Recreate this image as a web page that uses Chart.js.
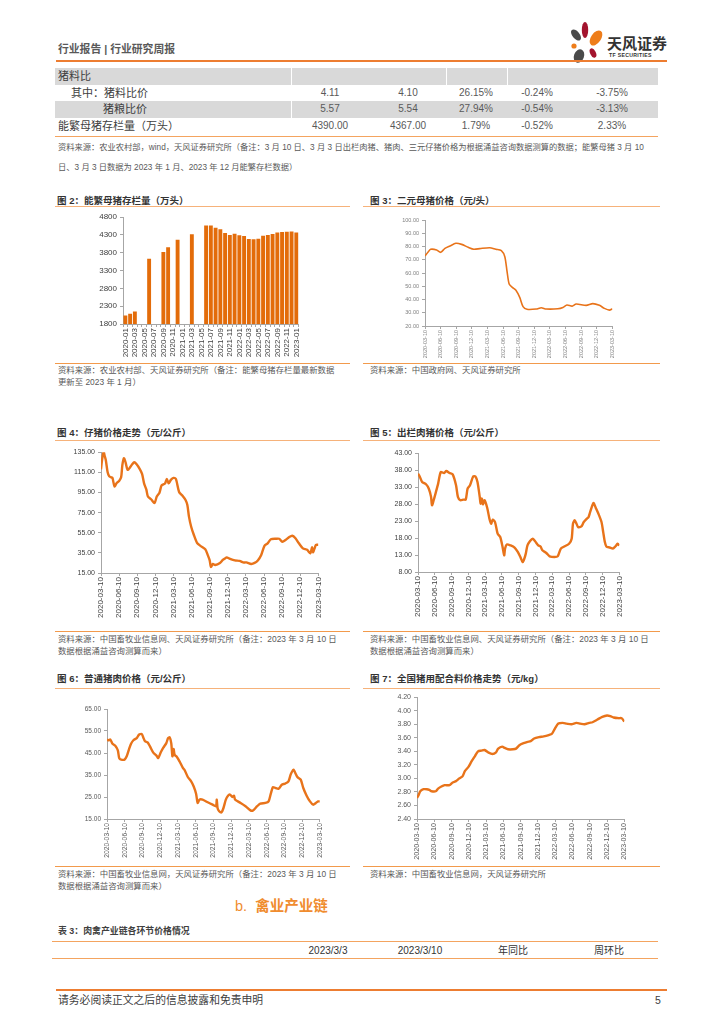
<!DOCTYPE html>
<html>
<head>
<meta charset="utf-8">
<script src="https://cdn.jsdelivr.net/npm/chart.js@4.4.0/dist/chart.umd.min.js"></script>
<style>
	body { margin: 0; width: 724px; height: 1024px; position: relative; background: #fff; overflow: hidden;
		font-family: "Liberation Sans", "Noto Sans CJK SC", sans-serif; color: #404040; }
	.t { position: absolute; white-space: nowrap; line-height: 1; }
	.ft { font-size: 9.5px; font-weight: bold; color: #333; }
	.note { font-size: 8.4px; color: #595959; }
	.hl { position: absolute; height: 0; }
	.thin { border-top: 1px solid #f6b27a; }
	.thick { border-top: 1.5px solid #f29a4c; }
	.row { position: absolute; left: 55px; width: 603px; }
	.gray { background: #d9d9d9; }
	.sep { position: absolute; width: 1px; background: #fff; }
	.cell { position: absolute; width: 80px; text-align: center; font-size: 10px; color: #595959; line-height: 1; }
	.lab { position: absolute; font-size: 11px; color: #404040; line-height: 1; white-space: nowrap; }
	canvas { position: absolute; }
</style>
</head>
<body>
<!-- header -->
<div class="t" style="left:58px;top:44px;font-size:10.8px;font-weight:bold;color:#595959;">行业报告 | 行业研究周报</div>
<svg style="position:absolute;left:566px;top:20px" width="40" height="46" viewBox="0 0 40 46">
	<ellipse cx="10" cy="15" rx="3.6" ry="6.5" fill="#4a4a4a" transform="rotate(-40 10 15)"/>
	<ellipse cx="19" cy="10" rx="3.2" ry="8" fill="#a3142e"/>
	<ellipse cx="30" cy="18" rx="5" ry="8.5" fill="#ee7d1a" transform="rotate(35 30 18)"/>
	<circle cx="8" cy="26" r="2.6" fill="#ee7d1a"/>
	<ellipse cx="13" cy="36" rx="5" ry="7" fill="#4a4a4a" transform="rotate(20 13 36)"/>
	<ellipse cx="27" cy="33" rx="2.8" ry="5" fill="#a3142e" transform="rotate(-25 27 33)"/>
</svg>
<div class="t" style="left:607px;top:36px;font-size:15px;font-weight:bold;color:#333;">天风证券</div>
<div class="t" style="left:609px;top:53px;font-size:5.2px;font-weight:bold;color:#333;letter-spacing:0.3px;">TF SECURITIES</div>
<div class="hl" style="left:56px;top:60px;width:611px;border-top:2px solid #ed7d31;"></div>

<!-- top table -->
<div class="row gray" style="top:68px;height:17px;"></div>
<div class="row gray" style="top:101px;height:17px;"></div>
<div class="sep" style="left:291px;top:68px;height:17px;"></div>
<div class="sep" style="left:446px;top:68px;height:17px;"></div>
<div class="sep" style="left:507px;top:68px;height:17px;"></div>
<div class="sep" style="left:291px;top:101px;height:17px;"></div>
<div class="lab" style="left:58px;top:71px;">猪料比</div>
<div class="lab" style="left:71px;top:88px;">其中：猪料比价</div>
<div class="lab" style="left:103px;top:104px;">猪粮比价</div>
<div class="lab" style="left:58px;top:121px;">能繁母猪存栏量（万头）</div>
<div id="tbl"></div>
<div class="hl" style="left:55px;top:136px;width:603px;border-top:1px solid #f4a460;"></div>
<div class="t note" style="left:58px;top:144px;font-size:8.25px;">资料来源：农业农村部，wind，天风证券研究所（备注：3 月 10 日、3 月 3 日出栏肉猪、猪肉、三元仔猪价格为根据涌益咨询数据测算的数据；能繁母猪 3 月 10</div>
<div class="t note" style="left:58px;top:164px;font-size:8.25px;">日、3 月 3 日数据为 2023 年 1 月、2023 年 12 月能繁存栏数据）</div>

<!-- fig 2 / fig 3 -->
<div class="t ft" style="left:57px;top:196px;">图 2：能繁母猪存栏量（万头）</div>
<div class="hl thin" style="left:55px;top:206px;width:295px;"></div>
<canvas id="fig2" width="250" height="152" style="left:57px;top:208px;"></canvas>
<div class="hl thick" style="left:55px;top:363px;width:295px;"></div>
<div class="t note" style="left:58px;top:366px;">资料来源：农业农村部、天风证券研究所（备注：能繁母猪存栏量最新数据</div>
<div class="t note" style="left:58px;top:378px;">更新至 2023 年 1 月）</div>

<div class="t ft" style="left:370px;top:196px;">图 3：二元母猪价格（元/头）</div>
<div class="hl thin" style="left:363px;top:206px;width:297px;"></div>
<canvas id="fig3" width="250" height="150" style="left:370px;top:212px;"></canvas>
<div class="hl thick" style="left:363px;top:363px;width:297px;"></div>
<div class="t note" style="left:370px;top:366px;">资料来源：中国政府网、天风证券研究所</div>

<!-- fig 4 / fig 5 -->
<div class="t ft" style="left:57px;top:428px;">图 4：仔猪价格走势（元/公斤）</div>
<div class="hl thin" style="left:55px;top:440px;width:295px;"></div>
<canvas id="fig4" width="272" height="175" style="left:57px;top:445px;"></canvas>
<div class="hl thick" style="left:55px;top:631px;width:295px;"></div>
<div class="t note" style="left:58px;top:635px;">资料来源：中国畜牧业信息网、天风证券研究所（备注：2023 年 3 月 10 日</div>
<div class="t note" style="left:58px;top:647px;">数据根据涌益咨询测算而来）</div>

<div class="t ft" style="left:370px;top:428px;">图 5：出栏肉猪价格（元/公斤）</div>
<div class="hl thin" style="left:363px;top:440px;width:297px;"></div>
<canvas id="fig5" width="262" height="175" style="left:368px;top:445px;"></canvas>
<div class="hl thick" style="left:363px;top:631px;width:297px;"></div>
<div class="t note" style="left:370px;top:635px;">资料来源：中国畜牧业信息网、天风证券研究所（备注：2023 年 3 月 10 日</div>
<div class="t note" style="left:370px;top:647px;">数据根据涌益咨询测算而来）</div>

<!-- fig 6 / fig 7 -->
<div class="t ft" style="left:57px;top:674px;">图 6：普通猪肉价格（元/公斤）</div>
<div class="hl thin" style="left:55px;top:688px;width:295px;"></div>
<canvas id="fig6" width="272" height="160" style="left:57px;top:700px;"></canvas>
<div class="hl thick" style="left:55px;top:866px;width:295px;"></div>
<div class="t note" style="left:58px;top:870px;">资料来源：中国畜牧业信息网，天风证券研究所（备注：2023 年 3 月 10 日</div>
<div class="t note" style="left:58px;top:882px;">数据根据涌益咨询测算而来）</div>

<div class="t ft" style="left:370px;top:674px;">图 7：全国猪用配合料价格走势（元/kg）</div>
<div class="hl thin" style="left:363px;top:688px;width:297px;"></div>
<canvas id="fig7" width="266" height="170" style="left:368px;top:690px;"></canvas>
<div class="hl thick" style="left:363px;top:866px;width:297px;"></div>
<div class="t note" style="left:370px;top:870px;">资料来源：中国畜牧业信息网，天风证券研究所</div>

<!-- section b -->
<div class="t" style="left:235px;top:899px;font-size:14.5px;color:#f08c2e;">b.&nbsp; <b>禽业产业链</b></div>
<div class="t" style="left:58px;top:927px;font-size:8.9px;font-weight:bold;color:#404040;">表 3：肉禽产业链各环节价格情况</div>
<div class="hl" style="left:52px;top:941px;width:606px;border-top:1px solid #f4a460;"></div>
<div class="cell" style="left:288px;top:946px;font-size:10px;color:#333;">2023/3/3</div>
<div class="cell" style="left:380px;top:946px;font-size:10px;color:#333;">2023/3/10</div>
<div class="cell" style="left:473px;top:946px;font-size:10px;color:#333;">年同比</div>
<div class="cell" style="left:569px;top:946px;font-size:10px;color:#333;">周环比</div>
<div class="hl" style="left:52px;top:958px;width:606px;border-top:1px solid #f4a460;"></div>

<!-- footer -->
<div class="hl" style="left:56px;top:989px;width:611px;border-top:2px solid #ed7d31;"></div>
<div class="t" style="left:58px;top:995px;font-size:10.8px;color:#404040;">请务必阅读正文之后的信息披露和免责申明</div>
<div class="t" style="left:655px;top:995px;font-size:10.5px;color:#404040;">5</div>

<script>
const FONT = "Liberation Sans";
const ORANGE = "#e8731a";
const AXIS = "#a6a6a6";

// top table
const tableRows = ["猪料比价", "猪粮比价", "能繁母猪存栏量"];
const tableValues = [
	["4.11", "4.10", "26.15%", "-0.24%", "-3.75%"],
	["5.57", "5.54", "27.94%", "-0.54%", "-3.13%"],
	["4390.00", "4367.00", "1.79%", "-0.52%", "2.33%"],
];

// fig 2 能繁母猪存栏量
const fig2Months = ["2020-01", "2020-02", "2020-03", "2020-04", "2020-05", "2020-06", "2020-07", "2020-08", "2020-09", "2020-10", "2020-11", "2020-12",
	"2021-01", "2021-02", "2021-03", "2021-04", "2021-05", "2021-06", "2021-07", "2021-08", "2021-09", "2021-10", "2021-11", "2021-12",
	"2022-01", "2022-02", "2022-03", "2022-04", "2022-05", "2022-06", "2022-07", "2022-08", "2022-09", "2022-10", "2022-11", "2022-12", "2023-01"];
const fig2Values = [2040, 2090, 2150, null, null, 3630, null, null, 3822, 3950, null, 4161,
	null, null, 4318, null, null, 4564, 4564, 4499, 4459, 4348, 4296, 4329,
	4290, 4268, 4185, 4177, 4192, 4277, 4298, 4324, 4362, 4379, 4385, 4390, 4367];
const fig2Ticks = [1800, 2300, 2800, 3300, 3800, 4300, 4800];

// shared quarter tick labels of the line charts
const quarterTicks = ["2020-03-10", "2020-06-10", "2020-09-10", "2020-12-10", "2021-03-10", "2021-06-10", "2021-09-10",
	"2021-12-10", "2022-03-10", "2022-06-10", "2022-09-10", "2022-12-10", "2023-03-10"];

// fig 3 二元母猪价格
const fig3Dates = ["2020-03-10", "2020-03-29", "2020-04-12", "2020-05-17", "2020-06-10", "2020-07-05", "2020-08-04", "2020-09-08",
	"2020-10-11", "2020-11-19", "2020-12-21", "2021-01-26", "2021-03-23", "2021-04-28", "2021-05-30", "2021-06-20", "2021-07-03",
	"2021-07-15", "2021-08-03", "2021-08-23", "2021-09-16", "2021-10-05", "2021-10-28", "2021-12-21", "2022-01-20", "2022-02-19",
	"2022-04-26", "2022-05-25", "2022-06-18", "2022-07-18", "2022-08-11", "2022-10-09", "2022-11-17", "2022-12-25", "2023-01-24",
	"2023-02-23", "2023-03-10"];
const fig3Values = [72.8, 76, 77.9, 77.4, 75.6, 78.6, 80.4, 82.4, 81.6, 79.4, 77.9, 78.4, 79.1, 77.9, 76.9, 72.3, 61,
	51.7, 49.2, 47.2, 41.6, 34.6, 32.6, 32.8, 33.8, 32.8, 33, 34, 35.8, 35, 36.6, 35.6, 36.9, 35.6, 33.3, 32, 33];
const fig3Ticks = [20, 30, 40, 50, 60, 70, 80, 90, 100];

// fig 4 仔猪价格
const fig4Dates = ["2020-03-10", "2020-03-15", "2020-03-23", "2020-03-28", "2020-04-04", "2020-04-13", "2020-04-21", "2020-05-01",
	"2020-05-07", "2020-05-17", "2020-05-28", "2020-06-10", "2020-06-20", "2020-06-26", "2020-07-04", "2020-07-12", "2020-07-22",
	"2020-08-03", "2020-08-15", "2020-08-25", "2020-09-07", "2020-09-22", "2020-10-04", "2020-10-14", "2020-10-25", "2020-11-03",
	"2020-11-20", "2020-12-06", "2020-12-17", "2020-12-30", "2021-01-11", "2021-01-28", "2021-02-07", "2021-02-16", "2021-02-27",
	"2021-03-10", "2021-03-22", "2021-04-08", "2021-04-24", "2021-05-10", "2021-05-19", "2021-05-27", "2021-06-08", "2021-06-21",
	"2021-07-07", "2021-07-24", "2021-08-18", "2021-08-30", "2021-09-10", "2021-09-16", "2021-09-26", "2021-10-07", "2021-11-01",
	"2021-11-15", "2021-11-26", "2021-12-04", "2021-12-21", "2022-01-15", "2022-02-09", "2022-02-26", "2022-03-12", "2022-04-06",
	"2022-04-23", "2022-05-09", "2022-05-26", "2022-06-12", "2022-06-28", "2022-07-14", "2022-08-09", "2022-08-25", "2022-09-11",
	"2022-09-28", "2022-10-14", "2022-10-30", "2022-11-16", "2022-12-03", "2022-12-23", "2023-01-14", "2023-01-30", "2023-02-08",
	"2023-02-13", "2023-02-21", "2023-02-28", "2023-03-10"];
const fig4Values = [118, 127, 135.5, 131.5, 127, 115, 111, 110,
	109.5, 101, 104.5, 106.5, 110, 122, 129, 125, 117.5,
	119.5, 123, 125, 123, 118.5, 113.5, 104, 98, 91,
	88, 84.5, 91, 94.5, 102, 104, 108.5, 104, 107.5,
	109.5, 108.5, 95.5, 92, 87.5, 82.5, 71, 61, 53,
	45, 42, 38.5, 33, 27.5, 21, 24, 23, 25,
	28, 29.5, 30.5, 29, 27.5, 27, 25.5, 25.5, 24,
	25, 27.5, 33, 42, 44.5, 48.5, 49, 49, 46,
	48, 50.5, 52, 49.5, 44.5, 39.5, 38, 34.5, 40.5,
	35.5, 39.5, 43, 43];
const fig4Ticks = [15, 35, 55, 75, 95, 115, 135];

// fig 5 出栏肉猪价格
const fig5Dates = ["2020-03-10", "2020-03-19", "2020-04-02", "2020-04-23", "2020-05-08", "2020-05-20", "2020-05-25", "2020-06-04",
	"2020-06-16", "2020-06-28", "2020-07-12", "2020-07-30", "2020-08-12", "2020-08-29", "2020-09-16", "2020-10-04", "2020-10-14",
	"2020-10-27", "2020-11-14", "2020-11-26", "2020-12-06", "2020-12-19", "2021-01-06", "2021-01-18", "2021-01-29", "2021-02-11",
	"2021-02-16", "2021-02-23", "2021-02-28", "2021-03-07", "2021-03-21", "2021-04-03", "2021-04-12", "2021-04-21", "2021-05-03",
	"2021-05-17", "2021-05-31", "2021-06-13", "2021-06-22", "2021-06-27", "2021-07-06", "2021-07-27", "2021-08-18", "2021-09-05",
	"2021-09-19", "2021-10-01", "2021-10-10", "2021-10-18", "2021-10-27", "2021-11-11", "2021-11-25", "2021-12-07", "2021-12-25",
	"2022-01-07", "2022-01-17", "2022-02-08", "2022-02-26", "2022-03-22", "2022-04-09", "2022-04-26", "2022-05-14", "2022-06-10",
	"2022-06-24", "2022-07-01", "2022-07-10", "2022-07-20", "2022-07-29", "2022-08-16", "2022-08-29", "2022-09-16", "2022-09-25",
	"2022-10-03", "2022-10-21", "2022-11-03", "2022-11-17", "2022-12-04", "2022-12-13", "2022-12-22", "2022-12-30", "2023-01-18",
	"2023-02-05", "2023-02-18", "2023-03-01", "2023-03-10"];
const fig5Values = [36.9, 36.1, 34.5, 33.8, 32.5, 30.1, 27.6, 29.1,
	31.5, 34, 37.4, 37.1, 37.7, 37.1, 36.7, 33.5, 30.1,
	29.1, 29.3, 29.3, 32.5, 33.5, 36.1, 36.1, 34.5, 30.1,
	28.1, 29.6, 27.9, 29.1, 26.9, 23.7, 22.2, 23.4, 22.7,
	19.3, 18.3, 15.5, 12.9, 14.9, 16.1, 15.8, 15.2, 13.9,
	12.4, 10.9, 11.9, 13.4, 15.8, 17.1, 17.8, 17.1, 15.8,
	15.5, 14.4, 13.6, 12.6, 12.4, 12.6, 14.9, 15.5, 16.3,
	17.8, 22.2, 23.2, 22.2, 21.2, 21.4, 22.7, 23.7, 24.2,
	25.6, 28.3, 26.9, 25.2, 22.7, 19.8, 16.8, 15.5, 15.2,
	14.9, 15.5, 16.3, 15.8];
const fig5Ticks = [8, 13, 18, 23, 28, 33, 38, 43];

// fig 6 普通猪肉价格
const fig6Dates = ["2020-03-10", "2020-03-18", "2020-03-27", "2020-04-08", "2020-04-22", "2020-05-05", "2020-05-12", "2020-05-22",
	"2020-06-09", "2020-06-20", "2020-07-02", "2020-07-12", "2020-07-24", "2020-08-11", "2020-08-22", "2020-09-06", "2020-09-14",
	"2020-09-23", "2020-10-06", "2020-10-18", "2020-11-04", "2020-11-21", "2020-11-30", "2020-12-13", "2020-12-25", "2021-01-11",
	"2021-01-20", "2021-01-28", "2021-02-06", "2021-02-12", "2021-02-18", "2021-02-23", "2021-03-02", "2021-03-18", "2021-04-05",
	"2021-04-13", "2021-04-30", "2021-05-17", "2021-05-30", "2021-06-12", "2021-06-20", "2021-06-29", "2021-07-15", "2021-08-11",
	"2021-09-06", "2021-09-23", "2021-09-27", "2021-10-01", "2021-10-09", "2021-10-21", "2021-10-31", "2021-11-13", "2021-11-24",
	"2021-12-04", "2021-12-16", "2021-12-24", "2021-12-30", "2022-01-14", "2022-01-28", "2022-02-23", "2022-03-18", "2022-04-01",
	"2022-04-22", "2022-05-08", "2022-06-04", "2022-06-20", "2022-07-02", "2022-07-12", "2022-07-24", "2022-08-11", "2022-08-27",
	"2022-09-14", "2022-10-01", "2022-10-12", "2022-10-26", "2022-11-04", "2022-11-16", "2022-12-03", "2022-12-16", "2023-01-03",
	"2023-01-20", "2023-02-06", "2023-02-20", "2023-03-01", "2023-03-10"];
const fig6Values = [51.1, 50.8, 51.1, 49.2, 48.3, 46.2, 42.7, 42,
	42, 43.5, 46.8, 49.2, 50.8, 51.8, 53.3, 53.6, 52.1,
	50.3, 49.8, 48, 45.3, 43.8, 42.7, 45.3, 47.3, 49.5,
	51.8, 52.1, 49.5, 43.5, 46.8, 44.2, 43.5, 41.2, 38.2,
	37.4, 34.1, 32.1, 29.8, 26.5, 22.3, 23.8, 23.8, 22.6,
	21.5, 20.8, 23.8, 20, 18.5, 18, 20, 23.8, 25.6,
	26.1, 25, 25.6, 23.8, 23, 22.3, 20.8, 18.9, 18.9,
	20.8, 22, 22.3, 23, 26.8, 29.5, 29.1, 28.8, 30.6,
	31.1, 32.1, 35.2, 37.4, 36.2, 34.1, 32.9, 29.1, 25.6,
	23, 21.5, 22.3, 23, 23];
const fig6Ticks = [15, 25, 35, 45, 55, 65];

// fig 7 全国猪用配合料价格
const fig7Dates = ["2020-03-10", "2020-03-18", "2020-03-27", "2020-04-14", "2020-05-01", "2020-05-14", "2020-05-26", "2020-06-18",
	"2020-06-30", "2020-07-17", "2020-08-04", "2020-08-29", "2020-09-16", "2020-10-03", "2020-10-20", "2020-11-07", "2020-11-20",
	"2020-12-08", "2020-12-24", "2021-01-12", "2021-01-28", "2021-02-15", "2021-03-02", "2021-03-23", "2021-04-13", "2021-04-30",
	"2021-05-13", "2021-06-04", "2021-06-17", "2021-07-04", "2021-07-30", "2021-08-16", "2021-09-03", "2021-09-25", "2021-10-16",
	"2021-11-02", "2021-11-20", "2021-12-15", "2022-01-10", "2022-02-06", "2022-02-23", "2022-03-09", "2022-03-26", "2022-04-18",
	"2022-05-09", "2022-06-04", "2022-06-30", "2022-07-20", "2022-08-12", "2022-09-07", "2022-09-24", "2022-10-20", "2022-11-15",
	"2022-12-10", "2022-12-27", "2023-01-14", "2023-02-10", "2023-02-26", "2023-03-10"];
const fig7Values = [2.71, 2.75, 2.81, 2.84, 2.84, 2.83, 2.81, 2.81,
	2.85, 2.88, 2.90, 2.90, 2.94, 2.96, 3.00, 3.03, 3.11,
	3.17, 3.25, 3.33, 3.40, 3.41, 3.42, 3.38, 3.36, 3.38,
	3.44, 3.47, 3.45, 3.43, 3.43, 3.44, 3.49, 3.52, 3.54,
	3.55, 3.59, 3.61, 3.62, 3.64, 3.66, 3.74, 3.81, 3.82,
	3.81, 3.80, 3.82, 3.81, 3.80, 3.82, 3.83, 3.87, 3.91,
	3.93, 3.92, 3.90, 3.89, 3.89, 3.84];
const fig7Ticks = [2.4, 2.6, 2.8, 3.0, 3.2, 3.4, 3.6, 3.8, 4.0, 4.2];

function fillTable() {
	const holder = document.getElementById("tbl");
	const centers = [330, 408, 476, 537, 612];
	const tops = [88, 104, 121];
	tableRows.forEach((name, r) => {
		tableValues[r].forEach((text, c) => {
			const div = document.createElement("div");
			div.className = "cell";
			div.style.left = (centers[c] - 40) + "px";
			div.style.top = tops[r] + "px";
			div.textContent = text;
			holder.appendChild(div);
		});
	});
}

function monthPos(date) {
	const [y, m, d] = date.split("-").map(Number);
	return (y - 2020) * 12 + (m - 3) + (d - 10) / 30;
}

function axisY(ticks, look, digits) {
	return {
		min: ticks[0],
		max: ticks[ticks.length - 1],
		afterBuildTicks: (s) => { s.ticks = ticks.map((v) => ({ value: v })); },
		afterFit: (s) => { s.width = look.yw; },
		ticks: {
			font: { family: FONT, size: look.yf },
			color: look.color,
			padding: 3,
			callback: (v) => Number(v).toFixed(digits),
		},
		grid: { drawOnChartArea: false, drawTicks: true, tickLength: 3, color: AXIS },
		border: { color: AXIS },
	};
}

function drawLine(id, dates, values, yTicks, look) {
	const canvas = document.getElementById(id);
	if (!canvas) {
		console.error("Canvas not found:", id);
		return;
	}
	const points = dates.map((d, i) => ({ x: monthPos(d), y: values[i] }));
	new Chart(canvas.getContext("2d"), {
		type: "line",
		data: {
			datasets: [{
				data: points,
				borderColor: ORANGE,
				borderWidth: look.lw,
				pointRadius: 0,
				tension: 0.25,
				fill: false,
			}],
		},
		options: {
			responsive: false,
			animation: false,
			events: [],
			layout: { padding: { top: look.top, right: look.right, left: 0, bottom: 0 } },
			plugins: { legend: { display: false }, tooltip: { enabled: false } },
			scales: {
				x: {
					type: "linear",
					min: 0,
					max: 36,
					afterBuildTicks: (s) => { s.ticks = quarterTicks.map((_, i) => ({ value: i * 3 })); },
					afterFit: (s) => { s.height = look.xh; },
					ticks: {
						autoSkip: false,
						minRotation: 90,
						maxRotation: 90,
						padding: 1,
						font: { family: FONT, size: look.xf },
						color: look.color,
						callback: (v, i) => quarterTicks[i],
					},
					grid: { drawOnChartArea: false, drawTicks: true, tickLength: 3, color: AXIS },
					border: { color: AXIS },
				},
				y: axisY(yTicks, look, 2),
			},
		},
	});
}

function drawBars() {
	const canvas = document.getElementById("fig2");
	const look = { yw: 66, yf: 8, color: "#404040" };
	new Chart(canvas.getContext("2d"), {
		type: "bar",
		data: {
			labels: fig2Months,
			datasets: [{
				data: fig2Values,
				backgroundColor: "#e36c0a",
				barPercentage: 0.82,
				categoryPercentage: 1,
			}],
		},
		options: {
			responsive: false,
			animation: false,
			events: [],
			layout: { padding: { top: 9, right: 6, left: 0, bottom: 0 } },
			plugins: { legend: { display: false }, tooltip: { enabled: false } },
			scales: {
				x: {
					afterFit: (s) => { s.height = 36; },
					ticks: {
						autoSkip: false,
						minRotation: 90,
						maxRotation: 90,
						padding: 1,
						font: { family: FONT, size: 8 },
						color: "#404040",
						callback: (v, i) => (i % 2 === 0 ? fig2Months[i] : ""),
					},
					grid: { drawOnChartArea: false, drawTicks: true, tickLength: 3, color: AXIS },
					border: { color: AXIS },
				},
				y: axisY(fig2Ticks, look, 0),
			},
		},
	});
}

fillTable();
drawBars();
drawLine("fig3", fig3Dates, fig3Values, fig3Ticks, { yw: 55, top: 8, right: 6, xh: 36, xf: 5.5, yf: 5.5, lw: 1.6, color: "#7f7f7f" });
drawLine("fig4", fig4Dates, fig4Values, fig4Ticks, { yw: 44, top: 7, right: 6, xh: 47, xf: 8, yf: 7, lw: 2.4, color: "#404040" });
drawLine("fig5", fig5Dates, fig5Values, fig5Ticks, { yw: 50, top: 8, right: 5, xh: 48, xf: 8, yf: 7, lw: 2.4, color: "#404040" });
drawLine("fig6", fig6Dates, fig6Values, fig6Ticks, { yw: 50, top: 9, right: 6, xh: 41, xf: 6.8, yf: 6.5, lw: 2.4, color: "#595959" });
drawLine("fig7", fig7Dates, fig7Values, fig7Ticks, { yw: 49, top: 7, right: 5, xh: 41, xf: 7.2, yf: 7, lw: 2.4, color: "#595959" });
</script>
</body>
</html>
